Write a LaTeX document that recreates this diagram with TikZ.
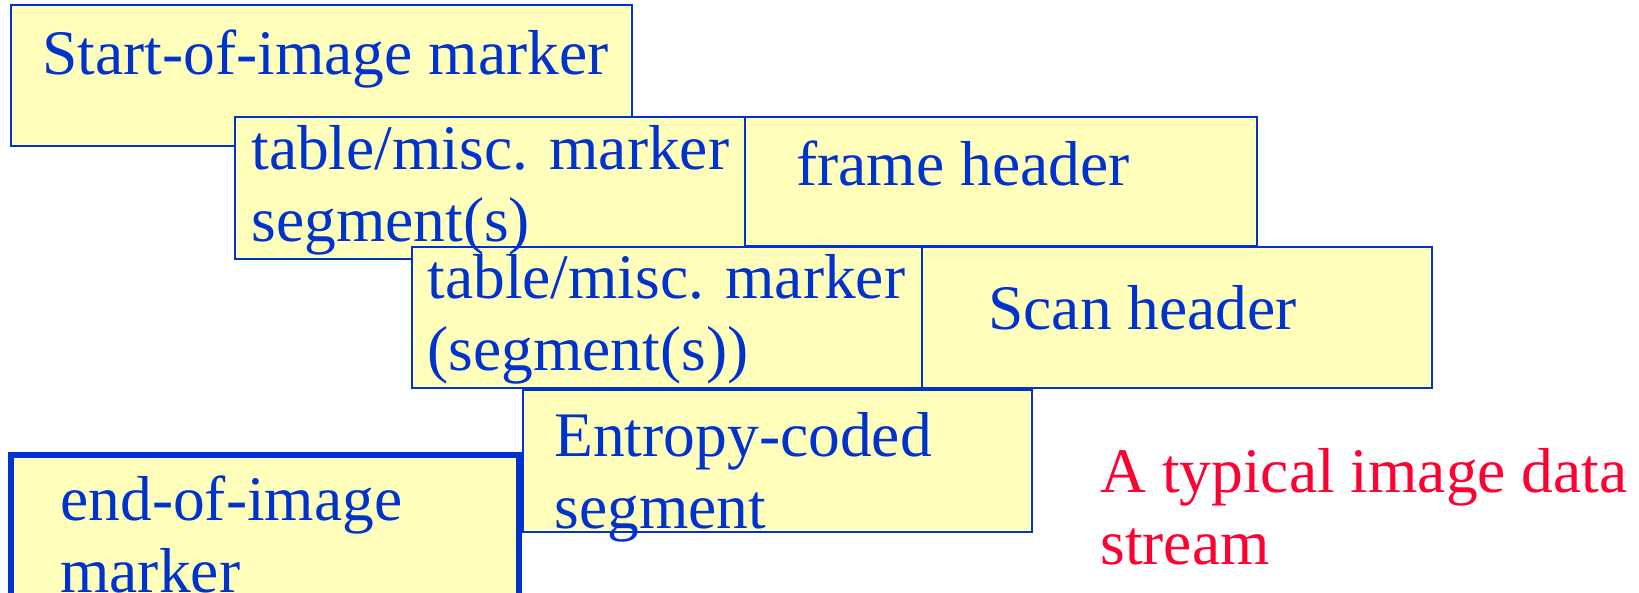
\documentclass[tikz,border=0pt]{standalone}
\usepackage{fontspec}
\setmainfont{Liberation Serif}
\usetikzlibrary{positioning}
\definecolor{segblue}{RGB}{0,51,204}
\definecolor{segfill}{RGB}{255,255,187}
\definecolor{notered}{RGB}{255,0,51}
\tikzset{
  segbox/.style={draw=segblue, fill=segfill, line width=1.2pt, inner sep=0pt,
    outer sep=0pt, anchor=north west, minimum width=255pt, minimum height=70.5pt},
  % base west sits on the last line of a two-line label
  seglabel/.style={segblue, font=\fontsize{31.75}{36}\selectfont, align=left,
    inner sep=0pt, anchor=base west},
}

\begin{document}
\begin{tikzpicture}[x=0.5pt, y=-0.5pt]
    \clip (0,0) rectangle (1639,593);
    % Marker segments, back to front
    \node[segbox, minimum width=310.5pt] (soi) at (11,5) {};
    \node[segbox, minimum height=71pt] (tabA) at (235,117) {};
    \node[segbox, minimum width=256pt, minimum height=64.5pt] (frame) at (tabA.north east) {};
    \node[segbox] (tabB) at (412,247) {};
    \node[segbox] (scan) at (tabB.north east) {};
    \node[segbox, minimum width=254.5pt, minimum height=71pt] (ecs) at (523,390) {};
    \node[segbox, line width=2.6pt, minimum width=254pt, minimum height=100pt] (eoi) at (11,455) {};
    % Labels go on top of the boxes
    \node[seglabel] (soitext) at ([shift={(31,70)}]soi.north west) {Start-of-image marker};
    \node[seglabel] (tabAtext) at ([shift={(16,125)}]tabA.north west) {table/misc. marker\\segment(s)};
    \node[seglabel] (frametext) at ([shift={(51,69)}]frame.north west) {frame header};
    \node[seglabel] (tabBtext) at ([shift={(15,124)}]tabB.north west) {table/misc. marker\\(segment(s))};
    \node[seglabel] (scantext) at ([shift={(66,82)}]scan.north west) {Scan header};
    \node[seglabel] (ecstext) at ([shift={(31,138)}]ecs.north west) {Entropy-coded\\segment};
    \node[seglabel] (eoitext) at ([shift={(49,137)}]eoi.north west) {end-of-image\\marker};
    \node[seglabel, notered] (note) at (1100,564) {A typical image data\\stream};
\end{tikzpicture}
\end{document}
